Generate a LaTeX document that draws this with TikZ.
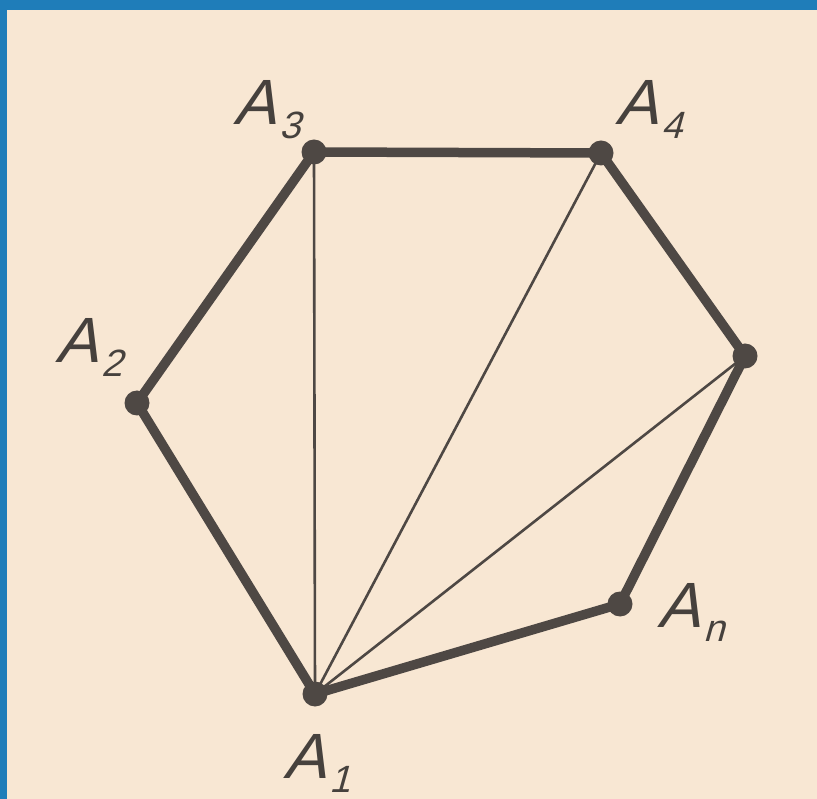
\documentclass[tikz,border=0pt]{standalone}
\usepackage{fontspec}
\newfontfamily\labfont[FakeSlant=0.28]{Liberation Sans}
\definecolor{paper}{HTML}{F8E7D3}
\definecolor{frameblue}{HTML}{1F7DB9}
\definecolor{ink}{HTML}{4E4844}
\newcommand{\vlab}[1]{\labfont\fontsize{64}{64}\selectfont A\kern4pt\raisebox{-14pt}{\fontsize{38}{38}\selectfont #1}}
\begin{document}
\begin{tikzpicture}[x=1pt,y=-1pt,
  edge/.style={draw=ink,line width=9.5pt,line cap=round},
  diag/.style={draw=ink,line width=2.6pt},
  vdot/.style={circle,fill=ink,minimum size=25pt,inner sep=0pt},
  lab/.style={anchor=base west,inner sep=0pt,text=ink!90!black}]
\useasboundingbox (0,0) rectangle (817,799);
\fill[paper] (0,0) rectangle (817,799);
\fill[frameblue] (0,0) rectangle (817,10);
\fill[frameblue] (0,0) rectangle (7,799);
% vertices
\coordinate (A1) at (315,694);
\coordinate (A2) at (137,403);
\coordinate (A3) at (314,152);
\coordinate (A4) at (601,153);
\coordinate (A5) at (745,356);
\coordinate (An) at (620,604);
% diagonals
\draw[diag] (A1) -- (A3);
\draw[diag] (A1) -- (A4);
\draw[diag] (A1) -- (A5);
% sides
\draw[edge] (A1) -- (A2) -- (A3) -- (A4) -- (A5) -- (An) -- cycle;
% dots
\foreach \p in {A1,A2,A3,A4,A5,An} \node[vdot] (d\p) at (\p) {};
% labels
\node[lab] (l1) at (283,778) {\vlab{1}};
\node[lab] (l2) at (55,363) {\vlab{2}};
\node[lab] (l3) at (233,125) {\vlab{3}};
\node[lab] (l4) at (615,125) {\vlab{4}};
\node[lab] (ln) at (657,627) {\vlab{n}};
\end{tikzpicture}
\end{document}
